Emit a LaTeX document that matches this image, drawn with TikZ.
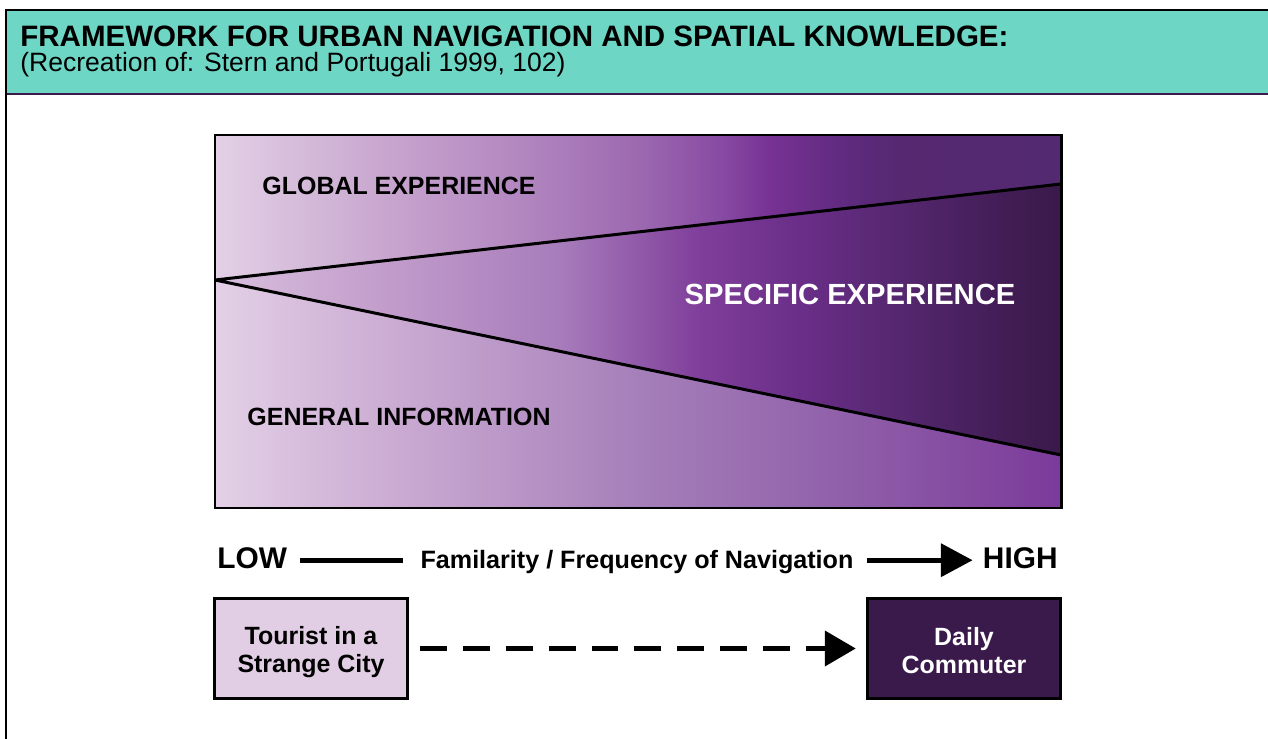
\documentclass[tikz,border=0pt]{standalone}
\usepackage{fontspec}
\setmainfont{Liberation Sans}
\usetikzlibrary{arrows.meta}

% palette
\definecolor{headteal}{HTML}{6ED6C5}
\definecolor{rulepurple}{HTML}{3C1A4C}
\definecolor{lavender}{HTML}{E2CEE4}
\definecolor{deeppurple}{HTML}{3A1A4A}

% upper band (global experience)
\definecolor{gA}{HTML}{E3D0E6}
\definecolor{gB}{HTML}{D5BCDA}
\definecolor{gC}{HTML}{C6A2CD}
\definecolor{gD}{HTML}{B287C0}
\definecolor{gE}{HTML}{9C69B0}
\definecolor{gF}{HTML}{884BA3}
\definecolor{gG}{HTML}{773294}
\definecolor{gH}{HTML}{5E2A7E}
\definecolor{gI}{HTML}{552870}
\definecolor{gJ}{HTML}{532A72}
\pgfdeclarehorizontalshading{globalshade}{100bp}{%
  color(0bp)=(gA); color(25bp)=(gA); color(30bp)=(gB); color(35.9bp)=(gC);
  color(43bp)=(gD); color(50.1bp)=(gE); color(54.8bp)=(gF); color(57.8bp)=(gG);
  color(62.5bp)=(gH); color(65.5bp)=(gI); color(75bp)=(gJ); color(100bp)=(gJ)}

% wedge (specific experience)
\definecolor{sA}{HTML}{D8BFDD}
\definecolor{sB}{HTML}{C09ACA}
\definecolor{sC}{HTML}{A77CBB}
\definecolor{sD}{HTML}{7F3E9A}
\definecolor{sE}{HTML}{6A2E88}
\definecolor{sF}{HTML}{55276F}
\definecolor{sG}{HTML}{421D56}
\definecolor{sH}{HTML}{3A1A4A}
\pgfdeclarehorizontalshading{specificshade}{100bp}{%
  color(0bp)=(sA); color(25bp)=(sA); color(35.9bp)=(sB); color(45.4bp)=(sC);
  color(53.7bp)=(sD); color(59.6bp)=(sE); color(65.5bp)=(sF); color(71.4bp)=(sG);
  color(75bp)=(sH); color(100bp)=(sH)}

% lower band (general information)
\definecolor{bA}{HTML}{E3D0E6}
\definecolor{bB}{HTML}{CAAAD2}
\definecolor{bC}{HTML}{A57FB9}
\definecolor{bD}{HTML}{8F5FA9}
\definecolor{bE}{HTML}{7B3A9A}
\pgfdeclarehorizontalshading{generalshade}{100bp}{%
  color(0bp)=(bA); color(25bp)=(bA); color(35.9bp)=(bB); color(50.1bp)=(bC);
  color(62.5bp)=(bD); color(75bp)=(bE); color(100bp)=(bE)}

\tikzset{
  frameline/.style={line width=1.1pt, black},
  panelline/.style={line width=1.7pt, black},
  bandlabel/.style={font=\bfseries\fontsize{14.2pt}{17pt}\selectfont, inner sep=0pt},
  scalelabel/.style={inner sep=0pt, text height=13pt, text depth=3pt},
  scalearrow/.style={line width=2.8pt, black},
  rolebox/.style={draw=black, line width=1.7pt, minimum width=110pt, minimum height=56.7pt,
    inner sep=0pt, align=center, font=\bfseries\fontsize{14.2pt}{16pt}\selectfont},
}

\begin{document}
\begin{tikzpicture}[x=0.02cm, y=-0.02cm]
\useasboundingbox (0,0) rectangle (1268,739);

% heading strip
\fill[headteal] (6,10) rectangle (1268,94);
\draw[rulepurple, line width=1.1pt] (6,94) -- (1268,94);
\draw[frameline] (5,10) -- (1268,10);
\draw[frameline] (6,9) -- (6,739);
\node[anchor=base west, inner sep=0pt, font=\bfseries\fontsize{16.8pt}{19pt}\selectfont]
  (title) at (20,47) {FRAMEWORK FOR URBAN NAVIGATION AND SPATIAL KNOWLEDGE:};
\node[anchor=base west, inner sep=0pt, font=\fontsize{15.1pt}{18pt}\selectfont]
  (source) at (20,72) {(Recreation of: Stern and Portugali 1999, 102)};

% knowledge panel
\coordinate (tl) at (215,135);
\coordinate (tr) at (1061,135);
\coordinate (br) at (1061,508);
\coordinate (bl) at (215,508);
\coordinate (apex) at (215,280);
\coordinate (upend) at (1061,184);
\coordinate (loend) at (1061,455);

\shade[shading=globalshade] (tl) -- (tr) -- (upend) -- (apex) -- cycle;
\shade[shading=specificshade] (apex) -- (upend) -- (loend) -- cycle;
\shade[shading=generalshade] (apex) -- (loend) -- (br) -- (bl) -- cycle;
\draw[panelline, line join=bevel] (upend) -- (apex) -- (loend);
\draw[panelline, line join=miter] (tl) rectangle (br);

\node[bandlabel, anchor=base] (global) at (399,195) {GLOBAL EXPERIENCE};
\node[bandlabel, anchor=base, white, font=\bfseries\fontsize{16.6pt}{19pt}\selectfont]
  (specific) at (850,305) {SPECIFIC EXPERIENCE};
\node[bandlabel, anchor=base] (general) at (399,426) {GENERAL INFORMATION};

% familiarity scale
\node[scalelabel, anchor=base west, font=\bfseries\fontsize{17pt}{20pt}\selectfont]
  (low) at (217,569) {LOW};
\node[scalelabel, anchor=base, font=\bfseries\fontsize{14.3pt}{17pt}\selectfont]
  (scale) at (637,569) {Familarity / Frequency of Navigation};
\node[scalelabel, anchor=base east, font=\bfseries\fontsize{17pt}{20pt}\selectfont]
  (high) at (1058,569) {HIGH};
\draw[scalearrow, shorten <=7.4pt, shorten >=9.6pt] (low.east) -- (scale.west);
\draw[scalearrow, shorten <=7.4pt, shorten >=5.7pt,
  -{Triangle[length=18pt, width=18.5pt]}] (scale.east) -- (high.west);

% navigator types
\node[rolebox, fill=lavender] (tourist) at (311,648.5)
  {\rule{0pt}{14pt}Tourist in a\\Strange City};
\node[rolebox, fill=deeppurple, text=white] (commuter) at (964,648.5)
  {\rule{0pt}{12.5pt}Daily\\Commuter};
\draw[line width=3.4pt, dash pattern=on 15.3pt off 9.1pt, shorten <=6.2pt, shorten >=5.7pt,
  -{Triangle[length=17.6pt, width=19.5pt]}] (tourist.east) -- (commuter.west);
\end{tikzpicture}
\end{document}
